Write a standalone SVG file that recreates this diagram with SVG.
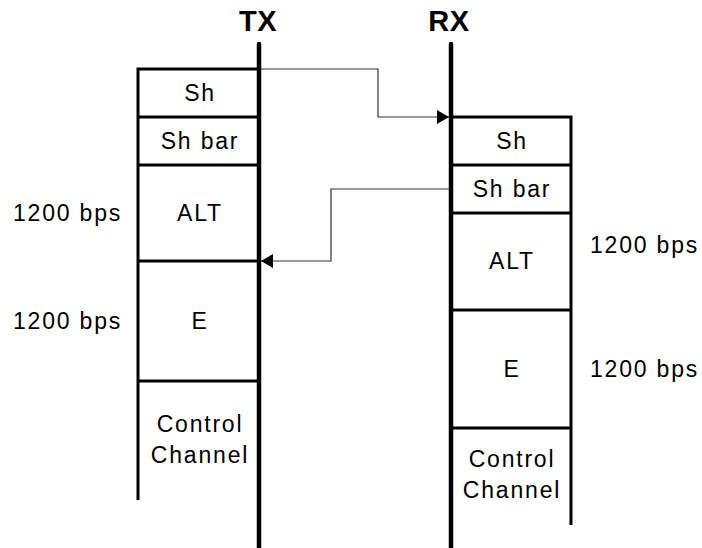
<svg xmlns="http://www.w3.org/2000/svg" width="702" height="548" viewBox="0 0 702 548">
<style>
.t{font-family:"Liberation Sans",Arial,sans-serif;font-size:23px;letter-spacing:1.8px;fill:#000}
.c{text-anchor:middle}
.h{font-family:"Liberation Sans",Arial,sans-serif;font-size:29px;font-weight:bold;letter-spacing:0.5px;text-anchor:middle;fill:#000}
.life{stroke:#000;stroke-width:4.5;stroke-linecap:round;fill:none}
.box{stroke:#000;stroke-width:3;fill:none}
.conn{stroke:#333;stroke-width:1.2;fill:none}
</style>
<defs>
<marker id="ah" markerWidth="12" markerHeight="14" refX="12" refY="7" orient="auto" markerUnits="userSpaceOnUse">
<path d="M0,0 L12,7 L0,14 Z" fill="#000"/>
</marker>
</defs>
<rect width="702" height="548" fill="#fff"/>
<g id="tx">
<text class="h" x="258" y="31">TX</text>
<line class="life" x1="259" y1="44" x2="259" y2="560"/>
<path class="box" d="M259,69 H138 V500 M138,117 H259 M138,165 H259 M138,261 H259 M138,381 H259"/>
<text class="t c" x="200" y="101">Sh</text>
<text class="t c" x="200" y="149">Sh bar</text>
<text class="t c" x="200" y="221">ALT</text>
<text class="t c" x="200" y="329">E</text>
<text class="t c" x="200" y="432">Control</text>
<text class="t c" x="200" y="463">Channel</text>
<text class="t" x="13" y="221">1200 bps</text>
<text class="t" x="13" y="329">1200 bps</text>
</g>
<g id="rx">
<text class="h" x="449" y="31">RX</text>
<line class="life" x1="451" y1="44" x2="451" y2="560"/>
<path class="box" d="M451,117 H571 V525 M451,165 H571 M451,213 H571 M451,310 H571 M451,428 H571"/>
<text class="t c" x="512" y="149">Sh</text>
<text class="t c" x="512" y="197">Sh bar</text>
<text class="t c" x="512" y="269">ALT</text>
<text class="t c" x="512" y="377">E</text>
<text class="t c" x="512" y="467">Control</text>
<text class="t c" x="512" y="498">Channel</text>
<text class="t" x="590" y="253">1200 bps</text>
<text class="t" x="590" y="377">1200 bps</text>
</g>
<g id="connectors">
<path class="conn" d="M261,69 H378 V117 H449" marker-end="url(#ah)"/>
<path class="conn" d="M449,189 H331 V261 H261" marker-end="url(#ah)"/>
</g>
</svg>
